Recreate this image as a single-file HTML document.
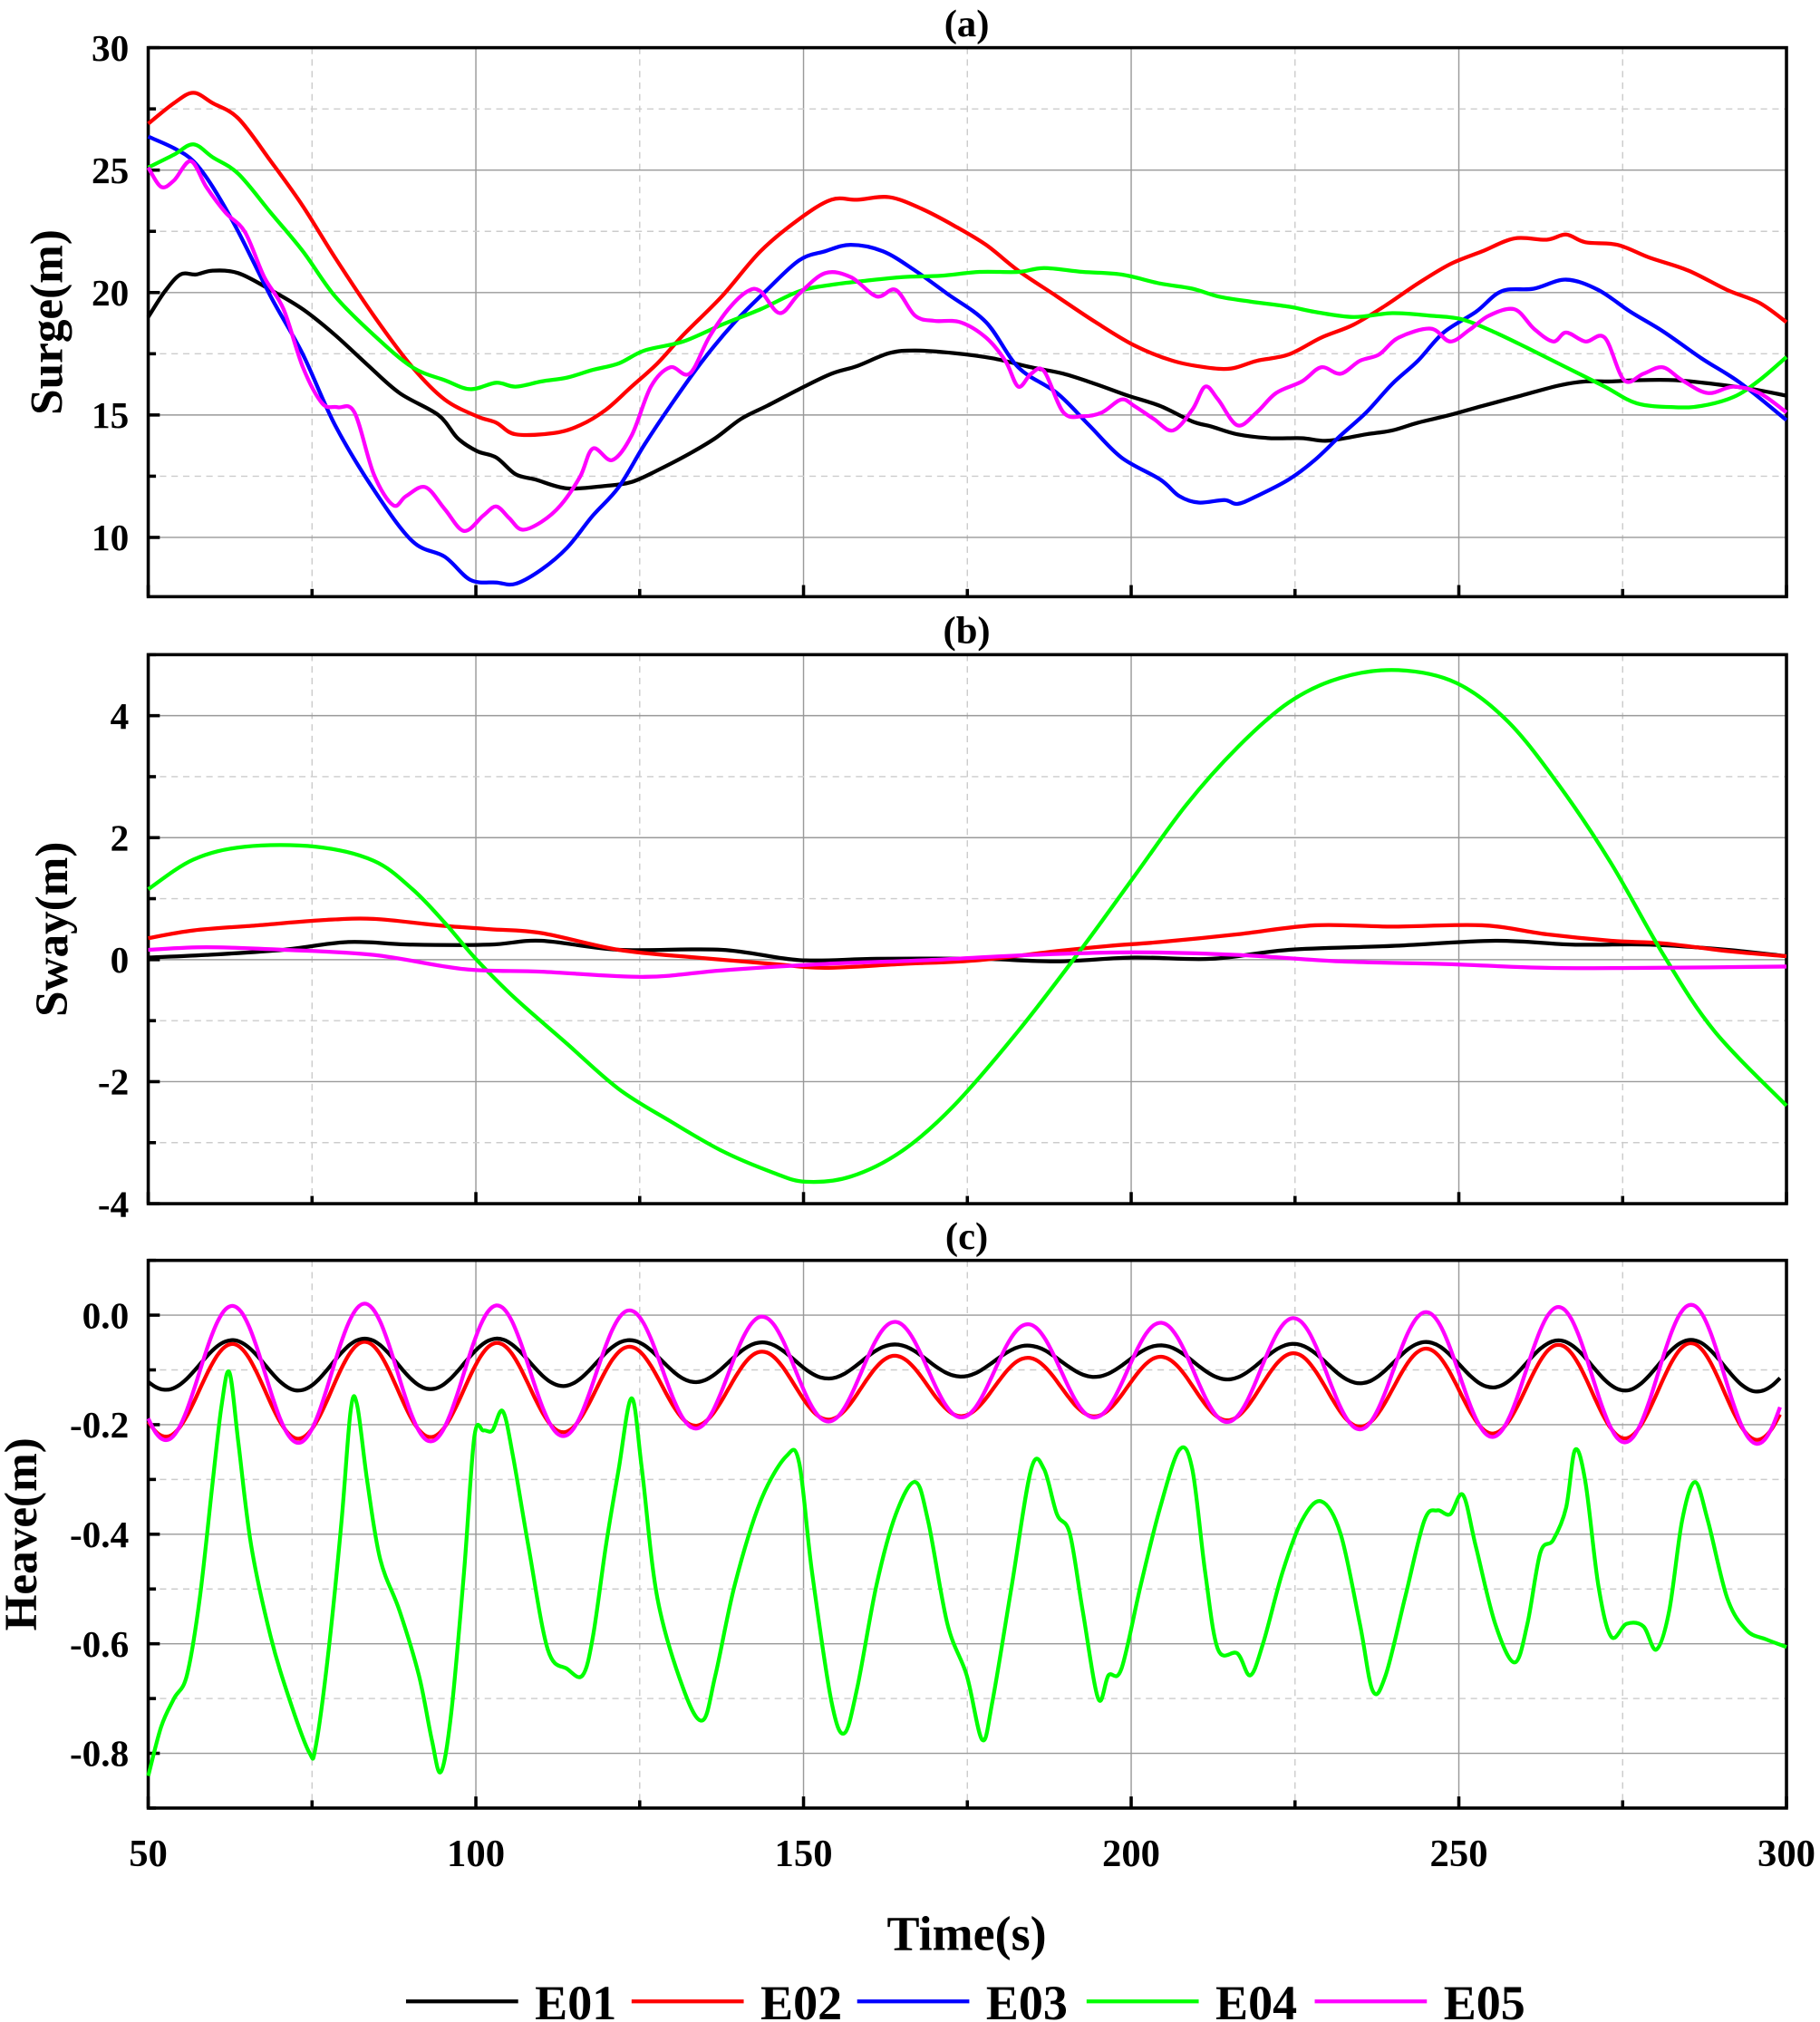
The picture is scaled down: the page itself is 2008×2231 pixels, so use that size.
<!DOCTYPE html>
<html><head><meta charset="utf-8"><style>html,body{margin:0;padding:0;background:#fff}svg{display:block}</style></head>
<body>
<svg id="s" xmlns="http://www.w3.org/2000/svg" width="2008" height="2231" viewBox="0 0 1412 1569" preserveAspectRatio="none" font-family="Liberation Serif, serif" font-weight="bold">
<rect width="1412" height="1569" fill="#fff"/>
<g id="g"></g>
</svg>
<script>
const NS="http://www.w3.org/2000/svg",G=document.getElementById('g');
function el(t,a,txt){const e=document.createElementNS(NS,t);for(const k in a)e.setAttribute(k,a[k]);if(txt!==undefined)e.textContent=txt;G.appendChild(e);return e;}
const L=115,R=1386;
const xs=t=>L+(t-50)*(R-L)/250;
function smooth(p){let d="M"+p[0][0]+","+p[0][1];for(let i=0;i<p.length-1;i++){const p0=p[i-1]||p[i],p1=p[i],p2=p[i+1],p3=p[i+2]||p2;
d+=" C"+(p1[0]+(p2[0]-p0[0])/6).toFixed(1)+","+(p1[1]+(p2[1]-p0[1])/6).toFixed(1)+" "+(p2[0]-(p3[0]-p1[0])/6).toFixed(1)+","+(p2[1]-(p3[1]-p1[1])/6).toFixed(1)+" "+p2[0]+","+p2[1];}return d;}
function line(p,c){el('path',{d:smooth(p),fill:'none',stroke:c,'stroke-width':3,'stroke-linejoin':'round'});}
function panel(top,bot,vmin,vmax,major,minorStep,fmt,label,title,lx){
 const ys=v=>bot-(v-vmin)*(bot-top)/(vmax-vmin);
 for(let t=50;t<=300;t+=25){const x=xs(t);if(t>50&&t<300)el('line',{x1:x,x2:x,y1:top,y2:bot,stroke:t%50==0?'#999':'#ccc','stroke-width':1,'stroke-dasharray':t%50==0?'':'5,4'});
  el('line',{x1:x,x2:x,y1:bot,y2:bot-(t%50==0?9:6),stroke:'#000','stroke-width':2.5});}
 let v0=Math.ceil(vmin/minorStep-1e-9)*minorStep;
 for(let v=v0;v<=vmax+1e-9;v+=minorStep){const y=ys(v);const isM=Math.abs(v/major-Math.round(v/major))<1e-6;
  if(y>top+1&&y<bot-1)el('line',{x1:L,x2:R,y1:y,y2:y,stroke:isM?'#999':'#ccc','stroke-width':1,'stroke-dasharray':isM?'':'5,4'});
  el('line',{x1:L,x2:L+(isM?9:6),y1:y,y2:y,stroke:'#000','stroke-width':2.5});
  if(isM){let s=fmt(v);if(s=="-0.0"||s=="-0")s=s.slice(1);el('text',{x:100,y:y+10,'text-anchor':'end','font-size':29},s);}}
 el('rect',{x:L,y:top,width:R-L,height:bot-top,fill:'none',stroke:'#000','stroke-width':2.5});
 el('text',{x:750,y:top-9,'text-anchor':'middle','font-size':30},title);
 el('text',{transform:`translate(${lx},${(top+bot)/2}) rotate(-90)`,'text-anchor':'middle','font-size':36},label);
}
panel(37,463,7.58,30,5,2.5,v=>v.toFixed(0),'Surge(m)','(a)',48);
panel(508,934,-4,5,2,1,v=>v.toFixed(0),'Sway(m)','(b)',52);
panel(978,1403,-0.9,0.1,0.2,0.1,v=>v.toFixed(1),'Heave(m)','(c)',28);
[50,100,150,200,250,300].forEach(t=>el('text',{x:xs(t),y:1448,'text-anchor':'middle','font-size':30},t));
el('text',{x:750,y:1513,'text-anchor':'middle','font-size':38},'Time(s)');
const P=s=>s.match(/-?\d+(\.\d+)?/g).map(Number).reduce((a,v,i,arr)=>{if(i%2==0)a.push([v,arr[i+1]]);return a},[]);
line(P("(115,246),(128,226),(140,213),(152,213),(165,210),(185,212),(210,225),(235,240),(260,260),(285,283),(310,305),(340,322),(355,340),(370,350),(385,355),(400,368),(415,372),(440,379),(470,377),(490,374),(510,365),(535,352),(555,340),(575,325),(595,315),(620,302),(645,290),(665,284),(690,274),(710,272),(740,274),(770,278),(800,285),(825,290),(850,298),(875,307),(900,315),(925,327),(940,331),(960,337),(985,340),(1010,340),(1030,342),(1060,337),(1080,334),(1100,328),(1125,322),(1150,315),(1180,307),(1210,299),(1230,296),(1250,296),(1270,295),(1300,295),(1330,298),(1360,302),(1386,307)"),'#000');
line(P("(115,96),(135,80),(150,72),(165,80),(185,92),(210,125),(235,160),(260,200),(290,245),(320,285),(345,310),(370,323),(385,328),(400,337),(430,336),(450,330),(470,318),(490,300),(510,282),(530,260),(560,230),(590,195),(620,170),(645,155),(665,155),(690,153),(715,162),(740,175),(765,190),(790,210),(820,230),(850,250),(880,268),(910,280),(935,285),(955,286),(975,280),(1000,275),(1025,262),(1050,252),(1075,237),(1100,220),(1125,205),(1150,195),(1175,185),(1200,186),(1215,182),(1230,188),(1255,190),(1280,200),(1310,210),(1340,225),(1365,235),(1386,250)"),'#f00');
line(P("(115,106),(135,115),(150,125),(165,145),(185,180),(210,230),(235,275),(260,330),(290,380),(320,420),(345,432),(365,450),(385,452),(400,453),(420,442),(440,425),(460,400),(480,378),(500,345),(520,315),(545,280),(570,250),(595,225),(620,202),(640,195),(660,190),(685,195),(710,210),(735,228),(765,250),(790,285),(820,305),(845,330),(870,355),(900,372),(915,385),(930,390),(950,388),(960,391),(975,385),(1000,372),(1020,357),(1040,338),(1060,320),(1080,298),(1100,280),(1120,258),(1145,242),(1165,226),(1190,224),(1215,217),(1240,225),(1265,242),(1290,257),(1320,278),(1350,297),(1386,326)"),'#00f');
line(P("(115,130),(135,120),(150,112),(165,122),(185,135),(210,165),(235,195),(260,230),(290,260),(320,285),(345,295),(365,302),(385,297),(400,300),(420,296),(440,293),(460,287),(480,282),(500,272),(530,265),(560,252),(590,240),(620,226),(645,221),(670,218),(700,215),(730,214),(760,211),(790,211),(810,208),(840,211),(870,213),(900,220),(925,224),(945,230),(970,234),(1000,238),(1020,242),(1050,246),(1080,243),(1110,245),(1135,248),(1160,258),(1185,270),(1215,285),(1245,300),(1270,313),(1300,316),(1320,315),(1345,308),(1365,295),(1386,277)"),'#0f0');
line(P("(115,130),(125,145),(135,140),(148,125),(160,145),(175,165),(190,180),(205,215),(220,240),(235,285),(250,313),(262,316),(275,320),(290,368),(305,392),(315,385),(330,378),(345,395),(360,412),(375,400),(385,393),(395,402),(405,411),(420,405),(435,392),(450,370),(460,348),(475,357),(490,338),(505,300),(520,285),(535,290),(550,262),(565,240),(580,226),(590,226),(605,243),(620,228),(640,212),(660,215),(680,230),(695,225),(710,245),(725,249),(745,250),(765,262),(780,280),(790,300),(800,290),(810,288),(825,320),(840,323),(855,320),(870,310),(880,315),(895,325),(910,334),(925,318),(935,300),(945,310),(960,330),(975,320),(990,305),(1010,296),(1025,285),(1040,290),(1055,280),(1070,275),(1085,262),(1110,255),(1125,265),(1140,256),(1155,245),(1175,240),(1190,255),(1205,265),(1215,258),(1230,265),(1245,262),(1260,295),(1275,290),(1290,285),(1305,295),(1325,305),(1345,300),(1365,305),(1386,320)"),'#f0f');
line(P("(115,743),(160,741),(220,737),(270,731),(320,733),(380,733),(420,730),(480,737),(560,737),(620,745),(680,744),(760,744),(820,746),(880,743),(940,744),(1000,737),(1080,734),(1160,730),(1220,733),(1280,733),(1340,737),(1386,742)"),'#000');
line(P("(115,728),(150,722),(200,718),(250,714),(290,713),(340,718),(380,721),(420,724),(480,737),(540,743),(600,748),(640,751),(700,748),(760,745),(820,738),(860,734),(900,731),(960,725),(1020,718),(1080,719),(1150,718),(1200,725),(1250,730),(1290,732),(1340,738),(1386,742)"),'#f00');
line(P("(115,690),(150,667),(190,657),(245,657),(290,668),(320,690),(345,716),(370,745),(400,775),(440,810),(480,845),(520,870),(560,893),(600,910),(625,917),(660,913),(700,893),(740,858),(790,800),(840,735),(880,680),(920,625),(960,580),(1000,545),(1040,526),(1085,520),(1130,530),(1170,560),(1210,610),(1250,670),(1290,740),(1330,800),(1386,858)"),'#0f0');
line(P("(115,737),(160,735),(220,737),(290,741),(360,752),(420,754),(500,758),(560,753),(640,748),(720,745),(800,741),(880,739),(960,741),(1040,746),(1120,748),(1200,751),(1280,751),(1386,750)"),'#f0f');
function osc(c,A,col,mod){const p=[];for(let x=115;x<=1386;x+=6){const m=1+mod*Math.sin(x/170);p.push([x,+(c+mod*8*Math.cos(x/230)-A*m*Math.cos(2*Math.PI*(x-180)/102.9)).toFixed(1)]);}line(p,col);}
osc(1078,30,'#f00',0.25);osc(1058,16,'#000',0.25);osc(1065,45,'#f0f',0.2);
line(P("(115,1378),(125,1340),(135,1318),(145,1300),(155,1240),(165,1150),(172,1090),(178,1065),(185,1120),(195,1200),(210,1270),(225,1320),(240,1360),(245,1355),(255,1280),(265,1180),(272,1095),(277,1090),(285,1150),(295,1210),(310,1250),(325,1300),(335,1350),(342,1375),(350,1330),(360,1220),(368,1115),(375,1110),(382,1110),(390,1095),(398,1130),(410,1200),(425,1280),(440,1295),(452,1300),(460,1270),(470,1200),(480,1140),(490,1085),(498,1140),(510,1240),(530,1310),(545,1335),(555,1300),(570,1230),(590,1165),(610,1130),(620,1135),(630,1220),(645,1320),(655,1345),(665,1310),(680,1230),(695,1175),(710,1150),(720,1180),(735,1260),(750,1300),(762,1350),(770,1320),(785,1230),(800,1140),(810,1140),(820,1175),(830,1190),(840,1250),(852,1318),(860,1300),(870,1295),(885,1230),(900,1170),(915,1125),(925,1140),(935,1220),(945,1280),(960,1283),(970,1300),(980,1275),(995,1220),(1010,1180),(1025,1165),(1040,1190),(1055,1260),(1065,1312),(1075,1300),(1090,1240),(1105,1180),(1115,1172),(1125,1175),(1135,1160),(1145,1200),(1160,1260),(1175,1290),(1185,1260),(1195,1205),(1205,1195),(1215,1170),(1222,1125),(1230,1150),(1240,1230),(1250,1270),(1262,1260),(1275,1262),(1285,1280),(1295,1250),(1305,1180),(1315,1150),(1325,1180),(1340,1240),(1355,1265),(1370,1272),(1386,1278)"),'#0f0');
[['#000',315,'E01'],['#f00',490,'E02'],['#00f',665,'E03'],['#0f0',843,'E04'],['#f0f',1020,'E05']].forEach(([c,x,t])=>{
 el('line',{x1:x,x2:x+87,y1:1553,y2:1553,stroke:c,'stroke-width':3});
 el('text',{x:x+100,y:1567,'font-size':38},t);});
</script>
</body></html>
